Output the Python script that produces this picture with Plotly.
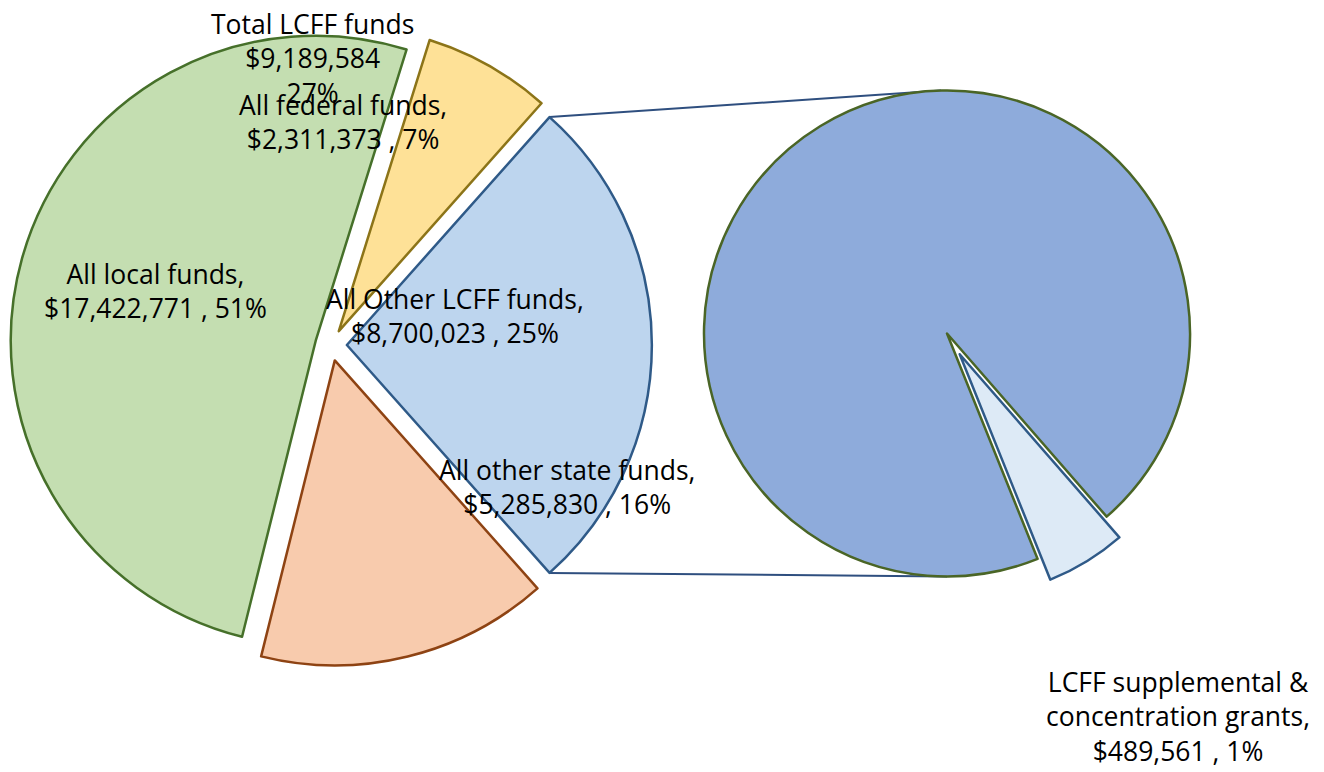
import math
import plotly.graph_objects as go

# ---- data ----
main_labels = ["Total LCFF funds", "All other state funds", "All local funds", "All federal funds"]
main_values = [9189584, 5285830, 17422771, 2311373]
main_pct = [27, 16, 51, 7]          # percentages as printed on the chart
sub_labels = ["All Other LCFF funds", "LCFF supplemental &<br>concentration grants"]
sub_values = [8700023, 489561]
sub_pct = [25, 1]

main_colors = ["#BDD5EE", "#F8CBAD", "#C4DEB1", "#FEE197"]
main_lines = ["#2F5A88", "#8E4313", "#46702A", "#8C7418"]
sub_colors = ["#8EABDB", "#DDEAF6"]
sub_lines = ["#4A6526", "#2F5A88"]

W, H = 1324, 772
total = sum(main_values)

# ---- geometry (pixels) ----
Lcx, Lcy, Lr, Lpull = 331, 345, 305, 0.052
Rcx, Rcy, Rr, Rpull = 947, 333.5, 243, 0.10

lcff_deg = main_values[0] / total * 360
left_rot = 90 - lcff_deg / 2
right_rot = 158.1


def dom(cx, cy, r, pull):
    half = r * (1 + pull)
    return dict(x=[(cx - half) / W, (cx + half) / W],
                y=[1 - (cy + half) / H, 1 - (cy - half) / H])


fig = go.Figure()
fig.add_trace(go.Pie(
    labels=main_labels, values=main_values, sort=False, direction="clockwise",
    rotation=left_rot, pull=[Lpull] * 4, textinfo="none", hoverinfo="label+value+percent",
    marker=dict(colors=main_colors, line=dict(color=main_lines, width=2.5)),
    domain=dom(Lcx, Lcy, Lr, Lpull), showlegend=False,
))
fig.add_trace(go.Pie(
    labels=sub_labels, values=sub_values, sort=False, direction="clockwise",
    rotation=right_rot, pull=[0, Rpull], textinfo="none", hoverinfo="label+value",
    marker=dict(colors=sub_colors, line=dict(color=sub_lines, width=2.5)),
    domain=dom(Rcx, Rcy, Rr, Rpull), showlegend=False,
))

# connector lines from exploded LCFF slice corners to top/bottom of second pie
apx = Lcx + Lpull * Lr
apy = Lcy
a0 = math.radians(left_rot)
a1 = math.radians(left_rot + lcff_deg)
p_top = (apx + Lr * math.sin(a0), apy - Lr * math.cos(a0))
p_bot = (apx + Lr * math.sin(a1), apy - Lr * math.cos(a1))
q_top = (Rcx - 6, Rcy - Rr)
q_bot = (Rcx, Rcy + Rr)
for p, q in [(p_top, q_top), (p_bot, q_bot)]:
    fig.add_shape(type="line", xref="paper", yref="paper",
                  x0=p[0] / W, y0=1 - p[1] / H, x1=q[0] / W, y1=1 - q[1] / H,
                  line=dict(color="#2F4F7F", width=2), layer="below")


def money(v):
    return "${:,}".format(v)


labels = [
    ("Total LCFF funds<br>" + money(main_values[0]) + "<br>" + f"{main_pct[0]}%", 312, 58),
    ("All federal funds,<br>" + money(main_values[3]) + f" , {main_pct[3]}%", 343, 122),
    ("All local funds,<br>" + money(main_values[2]) + f" , {main_pct[2]}%", 155, 291),
    ("All Other LCFF funds,<br>" + money(sub_values[0]) + f" , {sub_pct[0]}%", 455, 316),
    ("All other state funds,<br>" + money(main_values[1]) + f" , {main_pct[1]}%", 567, 487),
    ("LCFF supplemental &<br>concentration grants,<br>" + money(sub_values[1]) + f" , {sub_pct[1]}%", 1178, 716),
]
for txt, x, y in labels:
    fig.add_annotation(text=txt, x=x / W, y=1 - y / H, xref="paper", yref="paper",
                       showarrow=False, xanchor="center", yanchor="middle", align="center",
                       font=dict(family="Open Sans", size=26.5, color="#000000"))

fig.update_layout(width=W, height=H, margin=dict(l=0, r=0, t=0, b=0),
                  paper_bgcolor="white", plot_bgcolor="white", showlegend=False)
fig.write_html("out.html")
